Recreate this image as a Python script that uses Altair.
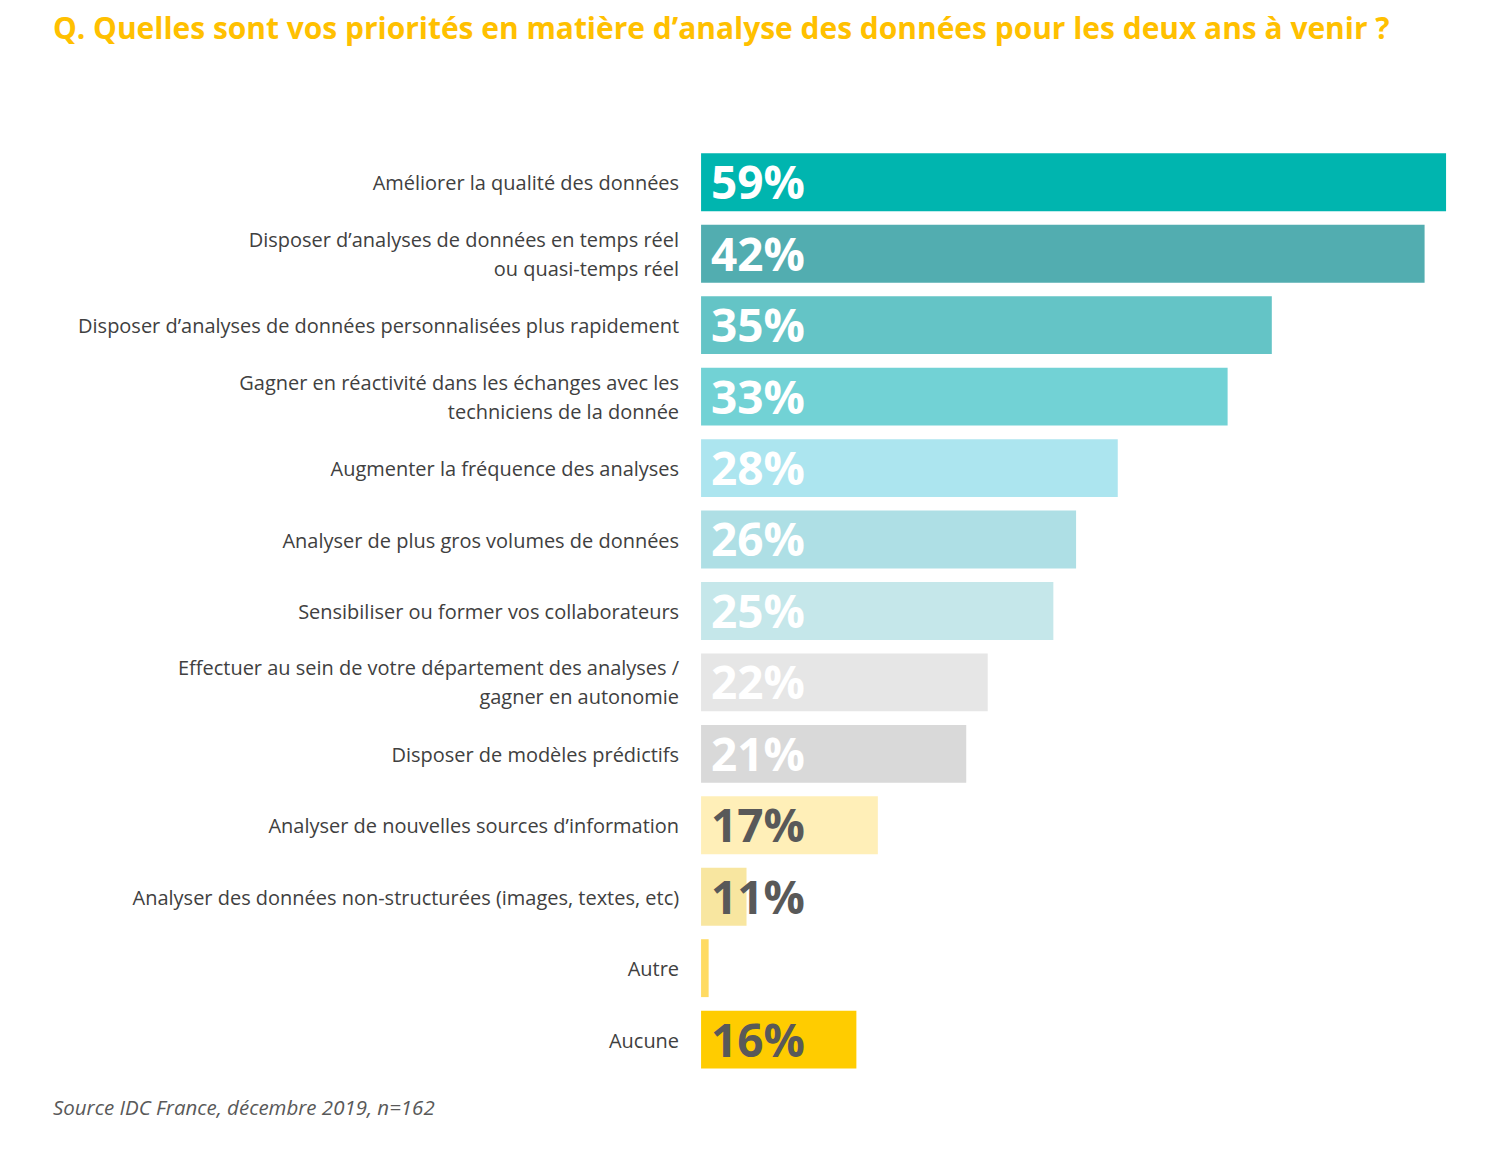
import altair as alt
import pandas as pd

# ---- data ----
categories = [
    "Améliorer la qualité des données",
    "Disposer d’analyses de données en temps réel|ou quasi-temps réel",
    "Disposer d’analyses de données personnalisées plus rapidement",
    "Gagner en réactivité dans les échanges avec les|techniciens de la donnée",
    "Augmenter la fréquence des analyses",
    "Analyser de plus gros volumes de données",
    "Sensibiliser ou former vos collaborateurs",
    "Effectuer au sein de votre département des analyses /|gagner en autonomie",
    "Disposer de modèles prédictifs",
    "Analyser de nouvelles sources d’information",
    "Analyser des données non-structurées (images, textes, etc)",
    "Autre",
    "Aucune",
]
values = [59, 42, 35, 33, 28, 26, 25, 22, 21, 17, 11, None, 16]
# bar lengths as drawn in the source graphic (same % units)
bar_lengths = [59, 57.3, 45.2, 41.7, 33.0, 29.7, 27.9, 22.7, 21.0, 14.0, 3.6, 0.6, 12.3]
bar_colors = ["#00B5AF", "#52ADB0", "#64C4C6", "#72D2D5", "#ACE5EF", "#AEDFE5",
              "#C5E7EA", "#E6E6E6", "#D9D9D9", "#FFEFB8", "#F8E6A0", "#FFDB62", "#FFCC00"]
value_text_colors = ["#FFFFFF"] * 9 + ["#595959"] * 4

title_text = "Q. Quelles sont vos priorités en matière d’analyse des données pour les deux ans à venir ?"
source_text = "Source IDC France, décembre 2019, n=162"

df = pd.DataFrame({
    "cat": categories,
    "bar": bar_lengths,
    "pct": [f"{v}%" if v is not None else "" for v in values],
    "lines": [c.count("|") + 1 for c in categories],
})

y_enc = alt.Y("cat:N", sort=None, axis=None,
              scale=alt.Scale(paddingInner=0.19, paddingOuter=0.095))

base = alt.Chart(df)

bars = base.mark_bar().encode(
    x=alt.X("bar:Q", axis=None, scale=alt.Scale(domain=[0, 59], nice=False)),
    y=y_enc,
    color=alt.Color("cat:N", scale=alt.Scale(domain=categories, range=bar_colors), legend=None),
)

pct = base.mark_text(align="left", baseline="middle", dx=10, dy=3,
                     font="Open Sans", fontWeight="bold", fontSize=46).encode(
    x=alt.value(0),
    y=y_enc,
    text="pct:N",
    color=alt.Color("cat:N", scale=alt.Scale(domain=categories, range=value_text_colors), legend=None),
)

label_style = dict(align="right", baseline="middle", lineBreak="|", lineHeight=29,
                   font="Open Sans", fontSize=20, color="#404040")

labels1 = base.transform_filter("datum.lines == 1").mark_text(dy=2, **label_style).encode(
    x=alt.value(-22), y=y_enc, text="cat:N")
labels2 = base.transform_filter("datum.lines == 2").mark_text(dy=-13, **label_style).encode(
    x=alt.value(-22), y=y_enc, text="cat:N")

title = alt.Chart(pd.DataFrame({"t": [title_text]})).mark_text(
    align="left", baseline="alphabetic", font="Open Sans", fontWeight="bold",
    fontSize=30, color="#FFC000").encode(
    x=alt.value(-649), y=alt.value(-108), text="t:N")

src = alt.Chart(pd.DataFrame({"t": [source_text]})).mark_text(
    align="left", baseline="alphabetic", font="Open Sans", fontStyle="italic",
    fontSize=20.5, color="#595959").encode(
    x=alt.value(-649), y=alt.value(970), text="t:N")

chart = alt.layer(bars, pct, labels1, labels2, title, src).resolve_scale(
    color="independent"
).properties(
    width=746,
    height=930,
    background="white",
    autosize=alt.AutoSizeParams(type="none"),
    padding={"left": 694, "top": 138, "right": 44, "bottom": 70},
).configure_view(strokeWidth=0, stroke="transparent")

chart.save("out.html", embed_options={"renderer": "svg", "actions": False})
